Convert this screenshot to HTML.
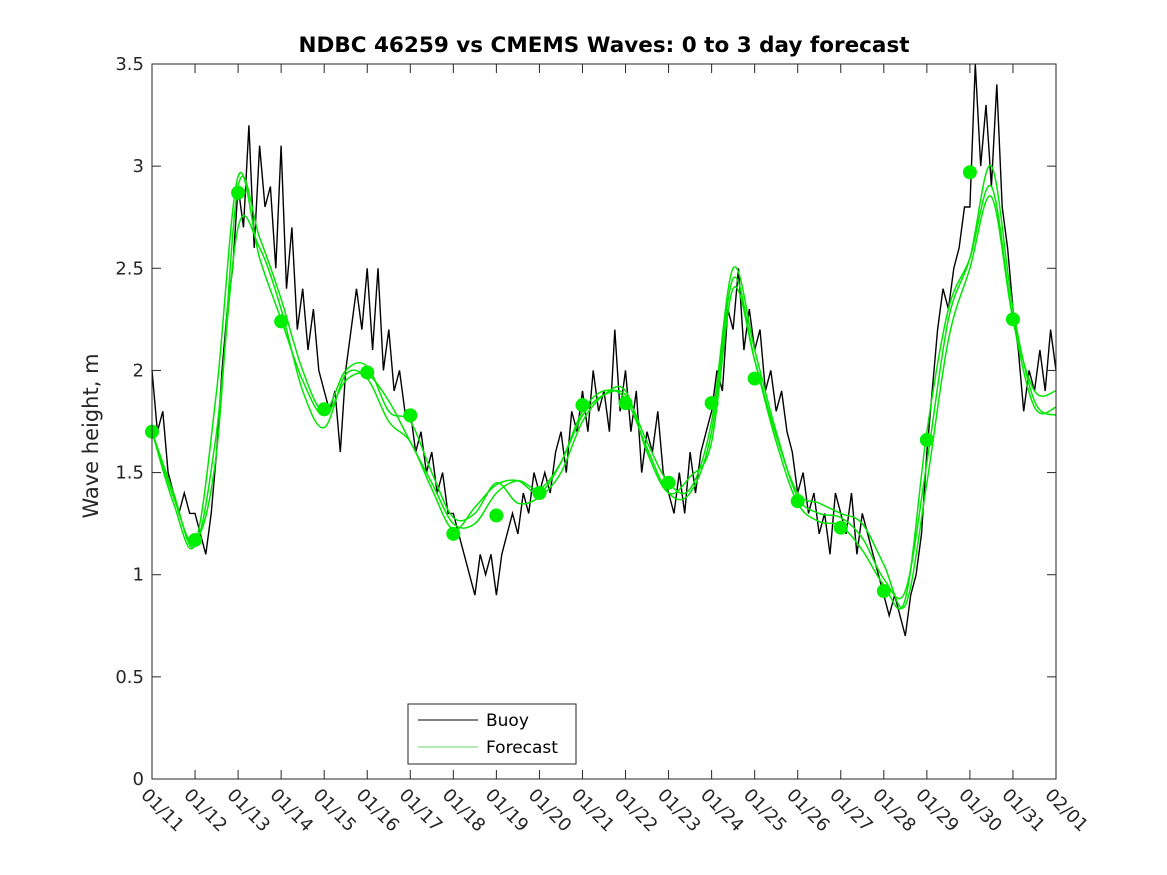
<!DOCTYPE html>
<html><head><meta charset="utf-8"><style>body{margin:0;background:#fff}svg{display:block;font-family:"DejaVu Sans","Liberation Sans",sans-serif}</style></head>
<body>
<svg id="chart" width="1167" height="875"></svg>
<script>
const dayLabels=["01/11","01/12","01/13","01/14","01/15","01/16","01/17","01/18","01/19","01/20","01/21","01/22","01/23","01/24","01/25","01/26","01/27","01/28","01/29","01/30","01/31","02/01"];
const yTicks=[0,0.5,1,1.5,2,2.5,3,3.5];
const buoy=[2.0,1.7,1.8,1.5,1.4,1.3,1.4,1.3,
1.3,1.2,1.1,1.3,1.6,2.0,2.3,2.5,
2.9,2.7,3.2,2.6,3.1,2.8,2.9,2.5,
3.1,2.4,2.7,2.2,2.4,2.1,2.3,2.0,
1.9,1.8,1.9,1.6,2.0,2.2,2.4,2.2,
2.5,2.1,2.5,2.0,2.2,1.9,2.0,1.8,
1.8,1.6,1.7,1.5,1.6,1.4,1.5,1.3,
1.3,1.2,1.1,1.0,0.9,1.1,1.0,1.1,
0.9,1.1,1.2,1.3,1.2,1.4,1.3,1.5,
1.4,1.5,1.4,1.6,1.7,1.5,1.8,1.7,
1.9,1.7,2.0,1.8,1.9,1.7,2.2,1.8,
2.0,1.7,1.9,1.5,1.7,1.6,1.8,1.5,
1.4,1.3,1.5,1.3,1.6,1.4,1.6,1.7,
1.8,2.0,1.9,2.3,2.2,2.5,2.1,2.3,
2.1,2.2,1.9,2.0,1.8,1.9,1.7,1.6,
1.4,1.5,1.3,1.4,1.2,1.3,1.1,1.4,
1.3,1.2,1.4,1.1,1.3,1.2,1.1,1.0,
0.9,0.8,0.9,0.8,0.7,0.9,1.0,1.2,
1.6,1.9,2.2,2.4,2.3,2.5,2.6,2.8,
2.8,3.5,3.0,3.3,2.9,3.4,2.8,2.6,
2.3,2.1,1.8,2.0,1.9,2.1,1.9,2.2,2.0];
const fcA=[1.70,1.35,1.15,1.90,2.95,2.55,2.25,1.95,1.78,1.95,1.98,1.85,1.65,1.45,1.25,1.25,1.40,1.46,1.42,1.55,1.78,1.88,1.88,1.65,1.45,1.42,1.75,2.50,2.10,1.70,1.38,1.30,1.28,1.18,0.98,0.92,1.55,2.25,2.55,3.00,2.30,1.85,1.78];
const fcB=[1.70,1.40,1.14,1.70,2.70,2.60,2.30,1.90,1.72,1.98,1.96,1.75,1.65,1.42,1.22,1.33,1.44,1.46,1.40,1.55,1.80,1.90,1.86,1.62,1.40,1.40,1.70,2.45,2.05,1.65,1.35,1.26,1.24,1.12,0.95,0.88,1.70,2.30,2.55,2.90,2.25,1.82,1.82];
const fcC=[1.70,1.38,1.16,1.60,2.90,2.65,2.35,2.00,1.80,2.00,2.02,1.80,1.75,1.50,1.28,1.30,1.45,1.35,1.38,1.50,1.75,1.88,1.90,1.60,1.40,1.48,1.65,2.40,2.05,1.68,1.40,1.35,1.30,1.25,1.05,0.85,1.45,2.15,2.50,2.85,2.25,1.90,1.90];
const dots=[1.70,1.17,2.87,2.24,1.81,1.99,1.78,1.20,1.29,1.40,1.83,1.84,1.45,1.84,1.96,1.36,1.23,0.92,1.66,2.97,2.25];

const L=152,R=1056,T=64,B=779;
const X=d=>L+(R-L)*d/21, Y=v=>B-(B-T)*v/3.5;
const svg=document.getElementById('chart');const NS='http://www.w3.org/2000/svg';
function mk(t,a,p){const e=document.createElementNS(NS,t);for(const k in a)e.setAttribute(k,a[k]);(p||svg).appendChild(e);return e;}
mk('rect',{x:0,y:0,width:1167,height:875,fill:'#fff'});
const plot=mk('g',{});
let pts=buoy.map((v,i)=>X(i/8).toFixed(1)+','+Y(v).toFixed(1)).join(' ');
const bl=mk('polyline',{points:pts,fill:'none',stroke:'#000','stroke-width':1.4},plot);

function smooth(arr,step){const p=arr.map((v,i)=>[X(i*step),Y(v)]);let d='M'+p[0][0]+','+p[0][1];for(let i=0;i<p.length-1;i++){const p0=p[Math.max(0,i-1)],p1=p[i],p2=p[i+1],p3=p[Math.min(p.length-1,i+2)];const c1=[p1[0]+(p2[0]-p0[0])/6,p1[1]+(p2[1]-p0[1])/6],c2=[p2[0]-(p3[0]-p1[0])/6,p2[1]-(p3[1]-p1[1])/6];d+=` C${c1[0].toFixed(1)},${c1[1].toFixed(1)} ${c2[0].toFixed(1)},${c2[1].toFixed(1)} ${p2[0].toFixed(1)},${p2[1].toFixed(1)}`;}return d;}
[fcA,fcB,fcC].forEach((a,k)=>{const e=mk('path',{d:smooth(a,0.5),fill:'none',stroke:'#00e600','stroke-width':1.5},plot);

});
dots.forEach((v,i)=>{const c=mk('circle',{cx:X(i),cy:Y(v),r:7,fill:'#00ee00'},plot);

});
mk('rect',{x:L,y:T,width:R-L,height:B-T,fill:'none',stroke:'#262626','stroke-width':1});
yTicks.forEach(v=>{mk('line',{x1:L,x2:L+9,y1:Y(v),y2:Y(v),stroke:'#262626'});mk('line',{x1:R-9,x2:R,y1:Y(v),y2:Y(v),stroke:'#262626'});
const t=mk('text',{x:L-8,y:Y(v)+6,'text-anchor':'end','font-size':18,fill:'#262626'});t.textContent=v;

});
dayLabels.forEach((s,i)=>{const x=X(i);mk('line',{x1:x,x2:x,y1:B,y2:B-9,stroke:'#262626'});mk('line',{x1:x,x2:x,y1:T,y2:T+9,stroke:'#262626'});
const t=mk('text',{x:x-12,y:B+17,'font-size':18,fill:'#262626',transform:`rotate(45 ${x-12} ${B+17})`});t.textContent=s;

});
const ti=mk('text',{x:604,y:52,'text-anchor':'middle','font-size':21.5,'font-weight':'bold',fill:'#000'});ti.textContent='NDBC 46259 vs CMEMS Waves: 0 to 3 day forecast';

const yl=mk('text',{x:98,y:436,'text-anchor':'middle','font-size':21,fill:'#262626',transform:'rotate(-90 98 436)'});yl.textContent='Wave height, m';

const lg=mk('g',{});
mk('rect',{x:408,y:704,width:168,height:60,fill:'#fff',stroke:'#262626'},lg);
mk('line',{x1:418,x2:478,y1:720,y2:720,stroke:'#000'},lg);
mk('line',{x1:418,x2:478,y1:747,y2:747,stroke:'#66dd66'},lg);
const t1=mk('text',{x:486,y:726,'font-size':17,fill:'#000'},lg);t1.textContent='Buoy';

const t2=mk('text',{x:486,y:753,'font-size':17,fill:'#000'},lg);t2.textContent='Forecast';

</script>
</body></html>
